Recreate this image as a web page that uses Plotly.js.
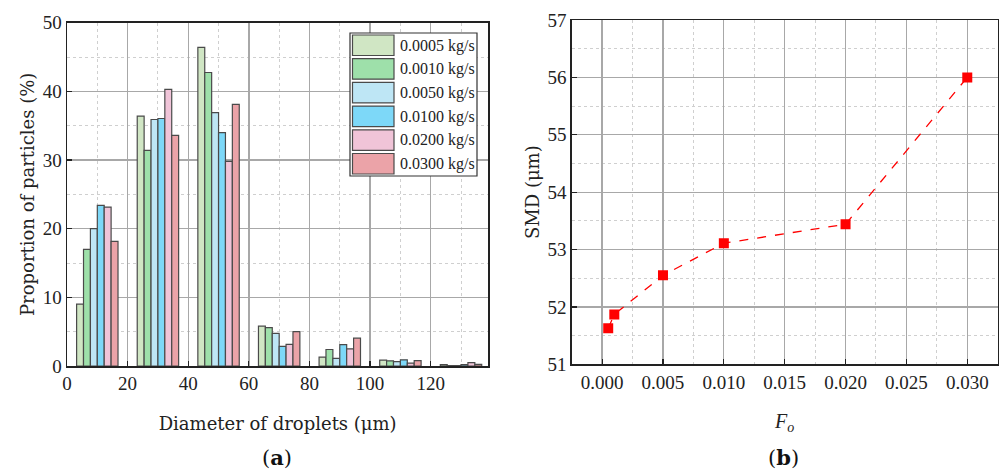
<!DOCTYPE html>
<html>
<head>
<meta charset="utf-8">
<script src="https://cdn.plot.ly/plotly-3.0.1.min.js"></script>
<style>html,body{margin:0;padding:0;background:#fff;}#chart{width:999px;height:475px;}</style>
</head>
<body>
<div id="chart"></div>
<script>
// ---- data (a) ----
const binCenters = [10, 30, 50, 70, 90, 110, 130];
const seriesNames = ["0.0005 kg/s", "0.0010 kg/s", "0.0050 kg/s", "0.0100 kg/s", "0.0200 kg/s", "0.0300 kg/s"];
const p0005 = [9.0, 36.4, 46.4, 5.8, 1.3, 0.87, 0.2];
const p0010 = [17.0, 31.4, 42.75, 5.6, 2.4, 0.75, 0.05];
const p0050 = [20.0, 35.9, 36.9, 4.75, 1.1, 0.65, 0.05];
const p0100 = [23.4, 36.05, 34.0, 2.85, 3.1, 0.9, 0.2];
const p0200 = [23.15, 40.3, 29.8, 3.15, 2.5, 0.42, 0.5];
const p0300 = [18.15, 33.6, 38.1, 5.0, 4.05, 0.78, 0.25];
const seriesValues = [p0005, p0010, p0050, p0100, p0200, p0300];
const seriesColors = ["#d0e6c4", "#9ee0aa", "#bee6f5", "#7dd8f8", "#f0c4d8", "#eba3a8"];
const xTicksA = [0, 20, 40, 60, 80, 100, 120];
const yTicksA = [0, 10, 20, 30, 40, 50];

// ---- data (b) ----
const Fo = [0.0005, 0.001, 0.005, 0.010, 0.020, 0.030];
const SMD = [51.63, 51.87, 52.55, 53.11, 53.44, 56.0];
const xTicksB = [0.000, 0.005, 0.010, 0.015, 0.020, 0.025, 0.030];
const yTicksB = [51, 52, 53, 54, 55, 56, 57];

const FONT = "'Liberation Serif', 'DejaVu Serif', serif";
const TFONT = "'DejaVu Serif', 'Liberation Serif', serif";
const W = 999, H = 475;
const px = v => v / W;
const py = v => 1 - v / H;

const traces = seriesValues.map((vals, i) => ({
  type: "bar",
  x: binCenters,
  y: vals,
  name: seriesNames[i],
  marker: { color: seriesColors[i], line: { color: "#4a4a4a", width: 1.2 } },
  xaxis: "x", yaxis: "y",
  showlegend: false
}));

traces.push({
  type: "scatter",
  mode: "lines+markers",
  x: Fo, y: SMD,
  xaxis: "x2", yaxis: "y2",
  line: { color: "#ff0000", dash: "dash", width: 1.3 },
  marker: { symbol: "square", size: 10, color: "#ff0000" },
  showlegend: false
});

const axisCommon = {
  showline: true, mirror: true, linecolor: "#222", linewidth: 1.5,
  ticks: "inside", ticklen: 5, tickcolor: "#222", tickwidth: 1.2,
  showgrid: true, gridcolor: "#a8a8a8", gridwidth: 1.3,
  zeroline: false,
  tickfont: { family: FONT, size: 19, color: "#222" },
  automargin: false
};

// custom legend (shapes + text) built from series arrays
const shapes = [];
const annotations = [];
const legL = 350, legR = 477, legT = 33, legB = 176;
shapes.push({ type: "rect", xref: "paper", yref: "paper", x0: px(legL), x1: px(legR), y0: py(legB), y1: py(legT),
  line: { color: "#333", width: 1.2 }, fillcolor: "#ffffff", layer: "above" });
seriesNames.forEach((nm, i) => {
  const top = 35 + 23.7 * i;
  shapes.push({ type: "rect", xref: "paper", yref: "paper", x0: px(352.5), x1: px(394), y0: py(top + 20.5), y1: py(top),
    line: { color: "#4a4a4a", width: 1.2 }, fillcolor: seriesColors[i], layer: "above" });
  annotations.push({ xref: "paper", yref: "paper", x: px(397.5), y: py(top + 10.5), xanchor: "left", yanchor: "middle",
    text: nm, showarrow: false, font: { family: FONT, size: 16, color: "#222" } });
});
annotations.push({ xref: "paper", yref: "paper", x: px(277), y: py(457), xanchor: "center", yanchor: "middle",
  text: "(<b>a</b>)", showarrow: false, font: { family: TFONT, size: 21, color: "#111" } });
annotations.push({ xref: "paper", yref: "paper", x: px(783), y: py(457), xanchor: "center", yanchor: "middle",
  text: "(<b>b</b>)", showarrow: false, font: { family: TFONT, size: 21, color: "#111" } });

const titleFont = { family: TFONT, size: 18, color: "#222" };

const layout = {
  width: W, height: H,
  margin: { l: 0, r: 0, t: 0, b: 0 },
  paper_bgcolor: "#fff", plot_bgcolor: "#fff",
  barmode: "group", bargap: 0.317, bargroupgap: 0,
  showlegend: false,
  xaxis: Object.assign({}, axisCommon, {
    domain: [px(67), px(488.3)], anchor: "y",
    range: [0, 139], tickvals: xTicksA, ticktext: xTicksA.map(String),
    minor: { dtick: 10, tick0: 0, showgrid: true, gridcolor: "#cfcfcf", griddash: "dot", gridwidth: 1, ticks: "" },
    title: { text: "Diameter of droplets (μm)", font: titleFont, standoff: 24 }
  }),
  yaxis: Object.assign({}, axisCommon, {
    domain: [1 - 366 / H, 1 - 22.7 / H], anchor: "x",
    range: [0, 50], tickvals: yTicksA, ticktext: yTicksA.map(String),
    minor: { dtick: 5, tick0: 0, showgrid: true, gridcolor: "#cfcfcf", griddash: "dot", gridwidth: 1, ticks: "" },
    title: { text: "Proportion of particles (%)", font: titleFont, standoff: 3 }
  }),
  xaxis2: Object.assign({}, axisCommon, {
    domain: [px(571.7), px(997.7)], anchor: "y2",
    range: [-0.0025, 0.0325], tickvals: xTicksB, ticktext: xTicksB.map(v => v.toFixed(3)),
    minor: { dtick: 0.0025, tick0: 0, showgrid: true, gridcolor: "#cfcfcf", griddash: "dot", gridwidth: 1, ticks: "" },
    title: { text: "<i>F<sub>o</sub></i>", font: { family: FONT, size: 20, color: "#222" }, standoff: 22 }
  }),
  yaxis2: Object.assign({}, axisCommon, {
    domain: [1 - 364.3 / H, 1 - 20 / H], anchor: "x2",
    range: [51, 57], tickvals: yTicksB, ticktext: yTicksB.map(String),
    minor: { dtick: 0.5, tick0: 51, showgrid: true, gridcolor: "#cfcfcf", griddash: "dot", gridwidth: 1, ticks: "" },
    title: { text: "SMD (μm)", font: titleFont, standoff: 3 }
  }),
  shapes: shapes,
  annotations: annotations
};

Plotly.newPlot("chart", traces, layout, { staticPlot: true, displayModeBar: false });
</script>
</body>
</html>
